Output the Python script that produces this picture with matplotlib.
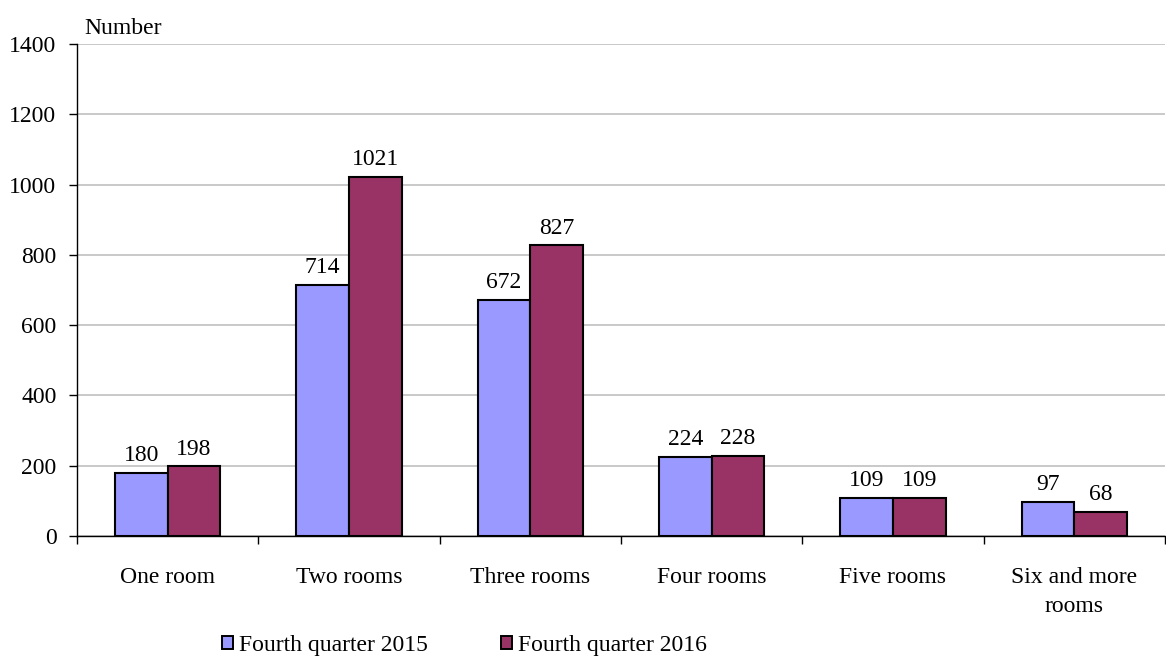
import matplotlib
matplotlib.use("Agg")
import matplotlib.pyplot as plt
import numpy as np
from matplotlib.patches import Patch

categories = ["One room", "Two rooms", "Three rooms", "Four rooms", "Five rooms", "Six and more\nrooms"]
series_names = ["Fourth quarter 2015", "Fourth quarter 2016"]
q2015 = [180, 714, 672, 224, 109, 97]
q2016 = [198, 1021, 827, 228, 109, 68]
yticks = [0, 200, 400, 600, 800, 1000, 1200, 1400]

plt.rcParams['font.family'] = ['Liberation Serif', 'DejaVu Serif']
fs = 17

fig = plt.figure(figsize=(11.66, 6.57), dpi=100)
ax = fig.add_axes([77/1166, 1 - 536/657, (1165-77)/1166, (536-44)/657])

x = np.arange(len(categories))
w = 0.29
colors = ["#9999FF", "#993366"]
b1 = ax.bar(x - w/2, q2015, w, color=colors[0], edgecolor="black", linewidth=1.5, zorder=3)
b2 = ax.bar(x + w/2, q2016, w, color=colors[1], edgecolor="black", linewidth=1.5, zorder=3)
for bars, vals in ((b1, q2015), (b2, q2016)):
    for r, v in zip(bars, vals):
        ax.annotate(str(v), (r.get_x() + r.get_width()/2, v), xytext=(0, 8.5),
                    textcoords="offset points", ha="center", va="baseline", fontsize=fs)

ax.set_xlim(-0.5, len(categories) - 0.5)
ax.set_ylim(0, 1400)
ax.set_yticks(yticks)
ax.tick_params(axis='y', labelsize=fs, length=5.8, width=1, direction='out', pad=9)
ax.yaxis.grid(True, color="#C0C0C0", linewidth=1.2, zorder=0)
ax.set_axisbelow(True)

ax.set_xticks(np.arange(len(categories) + 1) - 0.5, minor=False)
ax.set_xticklabels([])
ax.tick_params(axis='x', length=5.8, width=1, direction='out')
ax.set_xticks(x, minor=True)
ax.set_xticklabels(categories, minor=True, fontsize=fs, linespacing=1.55)
ax.tick_params(axis='x', which='minor', length=0, pad=22)

for s in ("top", "right"):
    ax.spines[s].set_visible(False)
for s in ("left", "bottom"):
    ax.spines[s].set_color("black")
    ax.spines[s].set_linewidth(1)

fig.text(84/1166, 1 - 28/657, "Number", fontsize=fs, va="center", ha="left")

handles = [Patch(facecolor=c, edgecolor="black", linewidth=1.4) for c in colors]
fig.legend(handles, series_names, loc="center left", bbox_to_anchor=(222/1166, 1 - 645/657),
           ncol=2, frameon=False, fontsize=fs, handlelength=0.47, handleheight=0.47,
           handletextpad=0.25, columnspacing=3.1, borderaxespad=0, borderpad=0)

fig.savefig("out.png", dpi=100)
